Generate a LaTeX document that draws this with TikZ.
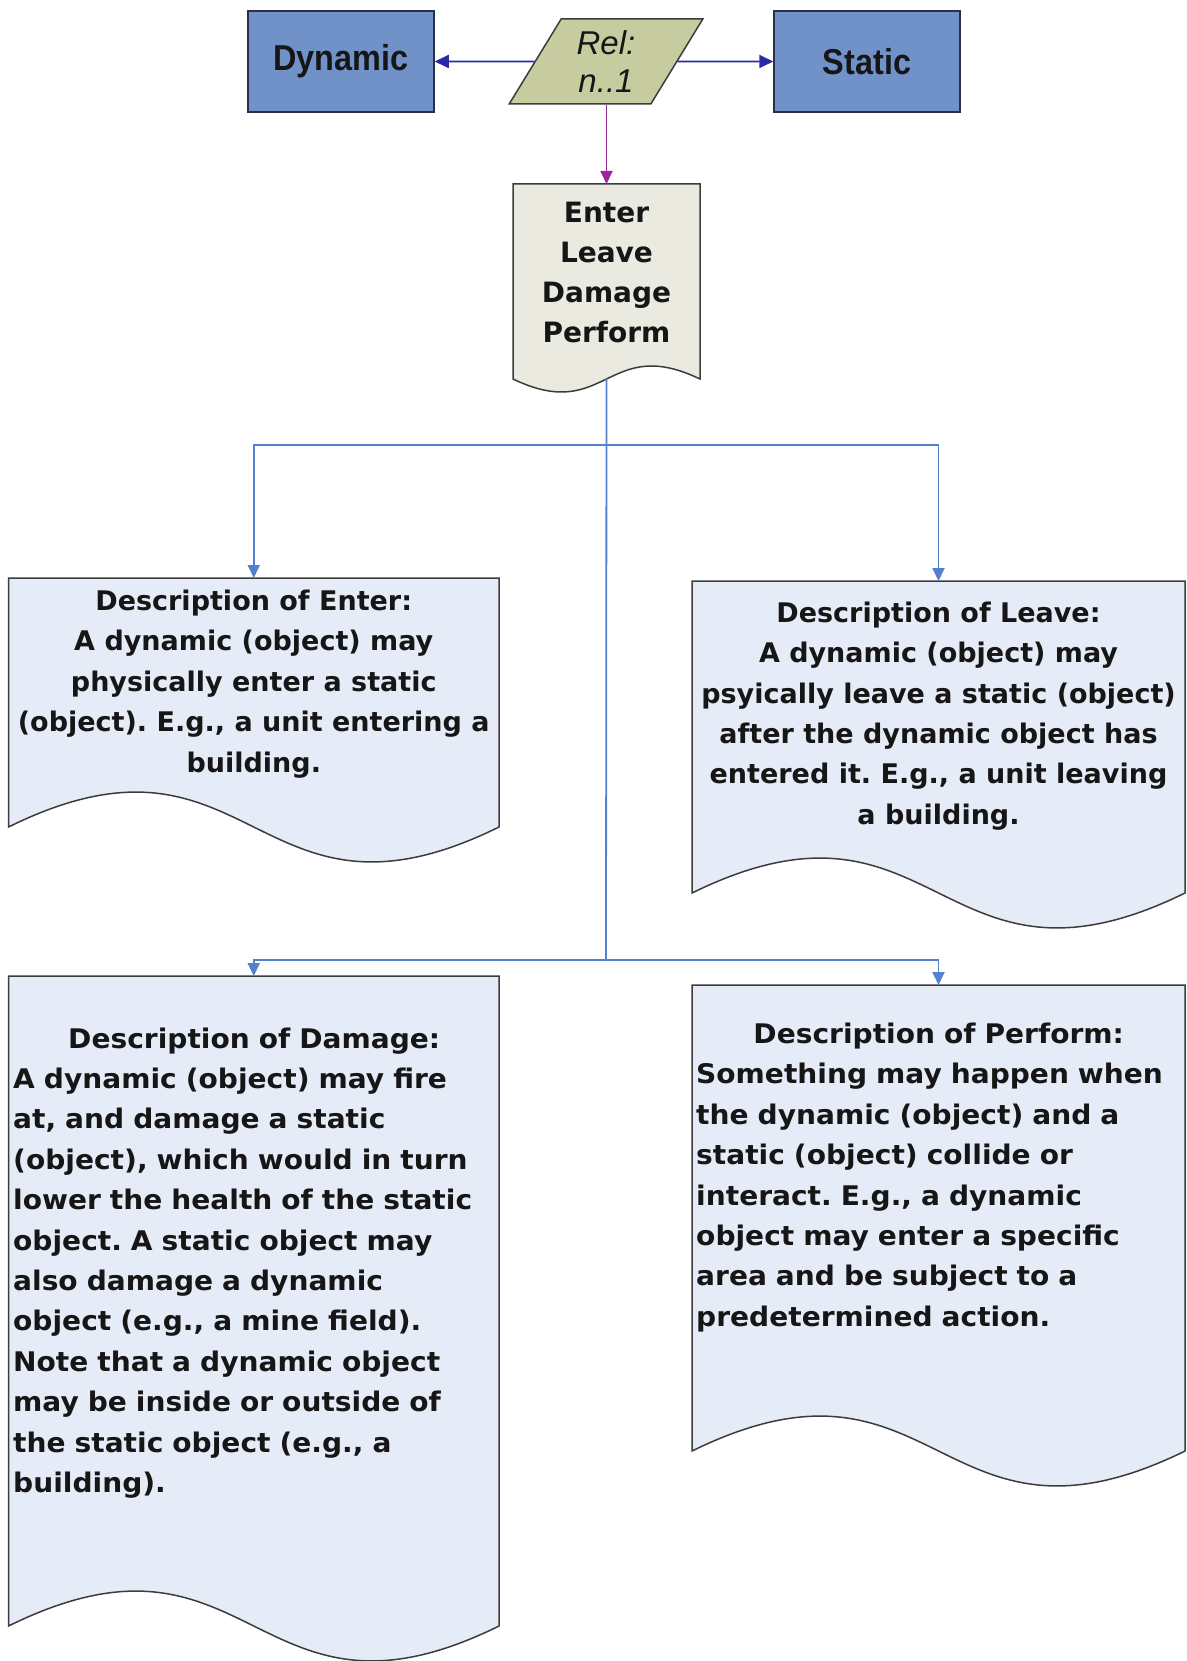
\documentclass[tikz,border=0pt]{standalone}
\usepackage{fontspec}
\setmainfont{DejaVu Sans}
\newfontfamily\labelfont[FakeStretch=0.9]{Liberation Sans}
\newfontfamily\relfont{Liberation Sans}
\usetikzlibrary{arrows.meta,shapes.geometric,calc}

\definecolor{boxblue}{RGB}{113,146,200}
\definecolor{relfill}{RGB}{199,204,160}
\definecolor{listfill}{RGB}{234,234,224}
\definecolor{descfill}{RGB}{230,236,247}
\definecolor{edgegray}{RGB}{60,60,60}
\definecolor{edgenavy}{RGB}{40,48,72}
\definecolor{linkblue}{RGB}{84,128,206}
\definecolor{navyline}{RGB}{42,42,168}
\definecolor{plumline}{RGB}{152,40,152}
\definecolor{ink}{RGB}{22,22,22}

% document symbol: straight top and sides, S-shaped bottom edge
\newcommand\docoutline[4]{%
  \draw[draw=edgegray, line width=1.5pt, fill=#2]
    (#1.north west) -- (#1.north east) -- (#1.south east)
    .. controls ($(#1.south)+(0,#4#3)$) and ($(#1.south)-(0,#4#3)$) .. (#1.south west)
    -- cycle;}

\begin{document}
\frenchspacing
\begin{tikzpicture}[x=1pt,y=-1pt,
  entity/.style={draw=edgenavy, line width=1.5pt, fill=boxblue,
    minimum width=186pt, minimum height=101pt, inner sep=0pt, text=ink,
    font=\labelfont\bfseries\fontsize{36}{40}\selectfont},
  relbox/.style={trapezium, trapezium left angle=61, trapezium right angle=119,
    trapezium stretches=true, draw=edgegray, line width=1.5pt, fill=relfill,
    minimum width=194pt, minimum height=85pt, inner sep=0pt, align=center, text=ink,
    font=\relfont\itshape\fontsize{33}{37.5}\selectfont},
  docframe/.style={inner sep=0pt, outer sep=0pt},
  doctext/.style={inner sep=0pt, text=ink, font=\bfseries\fontsize{27}{40.4}\selectfont},
  widetext/.style={doctext, font=\bfseries\fontsize{27}{40.4}\selectfont\addfontfeature{FakeStretch=1.04}},
  listtext/.style={inner sep=0pt, text=ink, align=center,
    font=\bfseries\fontsize{28}{40}\selectfont},
  link/.style={draw=linkblue, line width=1.8pt},
  linkarrow/.style={link, -{Triangle[length=13pt,width=12pt]}},
  navyarrow/.style={draw=navyline, line width=1.8pt, -{Triangle[length=14pt,width=13pt]}},
  plumarrow/.style={draw=plumline, line width=1.8pt, -{Triangle[length=13pt,width=12pt]}}
]
\fill[white] (0,0) rectangle (1186,1661);
\useasboundingbox (0,0) rectangle (1186,1661);

% top row
\node[entity] (dyn) at (341,61.5) {Dynamic};
\node[entity] (stat) at (867,61.5) {Static};
\node[relbox] (rel) at (606,61.5) {Rel:\\n..1};

% frames of the document symbols
\node[docframe, minimum width=187pt, minimum height=195pt] (cmd) at (606.5,281.5) {};
\node[docframe, minimum width=490.5pt, minimum height=249pt] (enter) at (253.75,702.5) {};
\node[docframe, minimum width=493pt, minimum height=312pt] (leave) at (938.5,737) {};
\node[docframe, minimum width=490.5pt, minimum height=650pt] (damage) at (253.75,1301) {};
\node[docframe, minimum width=493pt, minimum height=466pt] (perform) at (938.5,1218) {};

\docoutline{cmd}{listfill}{45}{-}
\docoutline{enter}{descfill}{121}{}
\docoutline{leave}{descfill}{121}{}
\docoutline{damage}{descfill}{121}{}
\docoutline{perform}{descfill}{121}{}

% texts
\node[listtext] (cmdtext) at (606.5,272) {Enter\\Leave\\Damage\\Perform};
\node[doctext, align=center] (entertext) at (253.75,684)
  {Description of Enter:\\A dynamic (object) may\\physically enter a static\\(object). E.g., a unit entering a\\building.};
\node[doctext, align=center] (leavetext) at (938.5,716)
  {Description of Leave:\\A dynamic (object) may\\psyically leave a static (object)\\after the dynamic object has\\entered it. E.g., a unit leaving\\a building.};
\node[widetext, align=left, text width=482pt, anchor=west] (damagetext) at (13,1263)
  {\makebox[\linewidth]{Description of Damage:}\\A dynamic (object) may fire\\at, and damage a static\\(object), which would in turn\\lower the health of the static\\object. A static object may\\also damage a dynamic\\object (e.g., a mine field).\\Note that a dynamic object\\may be inside or outside of\\the static object (e.g., a\\building).};
\node[widetext, align=left, text width=485pt, anchor=west] (performtext) at (696,1177.5)
  {\makebox[\linewidth]{Description of Perform:}\\Something may happen when\\the dynamic (object) and a\\static (object) collide or\\interact. E.g., a dynamic\\object may enter a specific\\area and be subject to a\\predetermined action.};

% connectors
\draw[navyarrow] (rel) -- (dyn);
\draw[navyarrow] (rel) -- (stat);
\draw[plumarrow] (rel.south -| cmd.north) -- (cmd.north);

\coordinate (split1) at (606,445);
\coordinate (split2) at (606,960);
\draw[link] (cmd.south) -- (split2);
\draw[linkarrow] (split1) -| (enter.north);
\draw[linkarrow] (split1) -| (leave.north);
\draw[linkarrow] (split2) -| (damage.north);
\draw[linkarrow] (split2) -| (perform.north);
\end{tikzpicture}
\end{document}
